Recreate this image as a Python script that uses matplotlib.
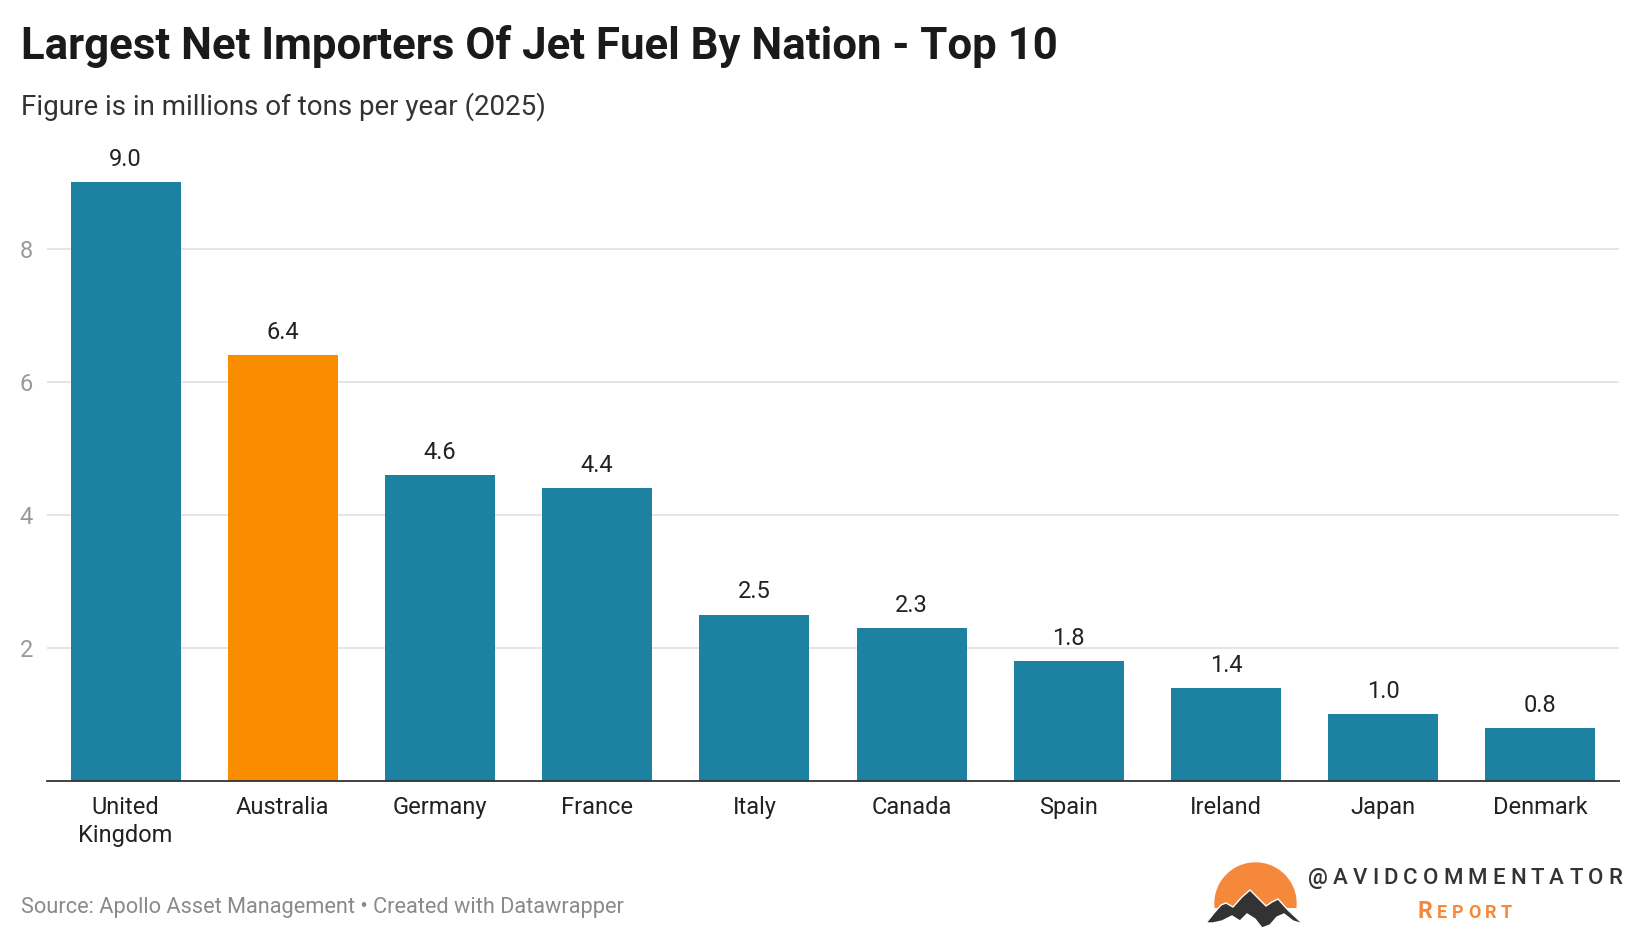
import matplotlib.pyplot as plt
from matplotlib.patches import Circle, Polygon, Rectangle

countries = ["United\nKingdom", "Australia", "Germany", "France", "Italy",
             "Canada", "Spain", "Ireland", "Japan", "Denmark"]
values = [9.0, 6.4, 4.6, 4.4, 2.5, 2.3, 1.8, 1.4, 1.0, 0.8]
highlight = "Australia"
yticks = [2, 4, 6, 8]

TEAL = "#1d81a2"
ORANGE = "#fa8c00"

plt.rcParams['font.family'] = ['Roboto', 'DejaVu Sans']

W, H = 1640, 940
fig = plt.figure(figsize=(W / 100, H / 100), dpi=100)

# main chart area (pixel box: x 47..1619, y 182..781)
ax = fig.add_axes([47 / W, (H - 781) / H, (1619 - 47) / W, (781 - 182) / H])
colors = [ORANGE if c == highlight else TEAL for c in countries]
xs = range(len(countries))
bars = ax.bar(xs, values, width=0.70, color=colors, zorder=2)
for b, v in zip(bars, values):
    ax.annotate(f"{v:.1f}", (b.get_x() + b.get_width() / 2, v),
                xytext=(0, 8), textcoords="offset points",
                ha="center", va="bottom", fontsize=17, color="#222222")

ax.set_xlim(-0.5, len(countries) - 0.5)
ax.set_ylim(0, 9)
ax.set_yticks(yticks)
ax.set_yticklabels([str(t) for t in yticks], fontsize=17, color="#999999")
ax.set_xticks(list(xs))
ax.set_xticklabels(countries, fontsize=17, color="#222222", linespacing=1.3)
ax.tick_params(axis="x", length=0, pad=10.5)
ax.tick_params(axis="y", length=0, pad=10)
ax.grid(axis="y", color="#e0e0e0", linewidth=1.2, zorder=0)
for s in ["top", "right", "left"]:
    ax.spines[s].set_visible(False)
ax.spines["bottom"].set_color("#333333")
ax.spines["bottom"].set_linewidth(1.3)
ax.spines["bottom"].set_zorder(3)

# overlay in pixel coordinates for titles, source and logo
ov = fig.add_axes([0, 0, 1, 1], zorder=-1)
ov.set_xlim(0, W)
ov.set_ylim(H, 0)
ov.axis("off")

ov.text(21, 46, "Largest Net Importers Of Jet Fuel By Nation - Top 10",
        fontsize=31.5, fontweight="bold", color="#1a1a1a", va="center", ha="left")
ov.text(21, 107, "Figure is in millions of tons per year (2025)",
        fontsize=20, color="#333333", va="center", ha="left")
ov.text(21, 907, "Source: Apollo Asset Management \u2022 Created with Datawrapper",
        fontsize=15.7, color="#8a8a8a", va="center", ha="left")

# logo
sun = Circle((1255.5, 903.5), 40.5, color="#f5883a", zorder=1)
ov.add_patch(sun)
clip = Rectangle((1200, 850), 110, 58, transform=ov.transData, visible=False)
ov.add_patch(clip)
sun.set_clip_path(clip)
mountain = [(1206, 923), (1214, 913), (1221, 905), (1226, 903), (1233, 907),
            (1242, 897), (1250, 890), (1258, 898), (1266, 906), (1272, 902),
            (1278, 899), (1288, 910), (1303, 924), (1293, 921), (1284, 914),
            (1277, 917), (1270, 925), (1262, 928), (1255, 919), (1247, 914),
            (1240, 921), (1232, 916), (1222, 921), (1213, 923)]
ov.add_patch(Polygon(mountain, closed=True, facecolor="#333333",
                     edgecolor="white", linewidth=1.0, zorder=2))

renderer = fig.canvas.get_renderer()


def tracked(text, x_start, x_end, y, sizes, color, weight):
    # place letters one by one with even spacing between glyphs
    items = []
    for ch, fs in zip(text, sizes):
        t = ov.text(0, y, ch, fontsize=fs, color=color, ha="left",
                    va="baseline", fontweight=weight)
        items.append((t, t.get_window_extent(renderer).width))
    total = sum(w for _, w in items)
    gap = (x_end - x_start - total) / (len(items) - 1)
    x = x_start
    for t, w in items:
        t.set_x(x)
        x += w + gap


brand = "@AVIDCOMMENTATOR"
tracked(brand, 1308, 1622, 884, [16] * len(brand), "#333333", "medium")
rep = "REPORT"
tracked(rep, 1418, 1512, 918, [16.5] + [13] * (len(rep) - 1), "#f5883a", "bold")

fig.savefig("out.png", dpi=100)
